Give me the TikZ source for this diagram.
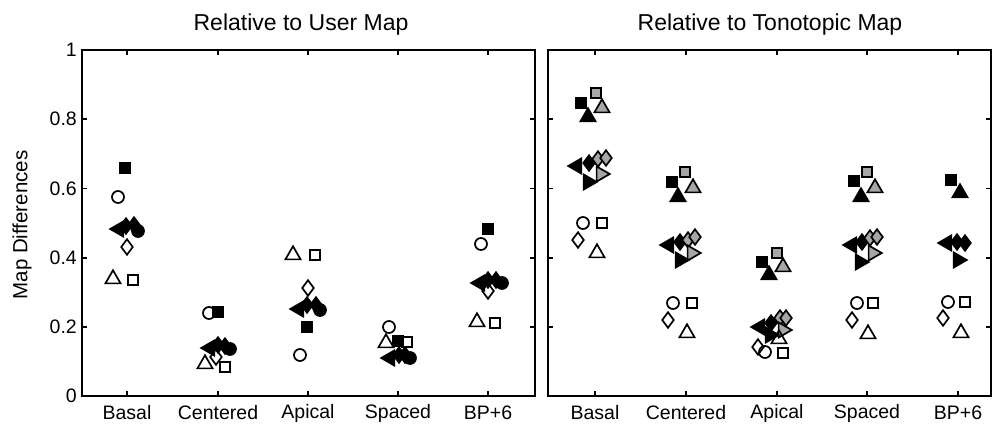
\documentclass[tikz,border=0pt]{standalone}
\usepackage{fontspec}
\setmainfont{Liberation Sans}
\usetikzlibrary{shapes.geometric}
\begin{document}
\begin{tikzpicture}[x=1pt,y=-1pt,
  ax/.style={line width=1.8pt, black},
  mk/.style={inner sep=0pt, outer sep=0pt, line width=1.7pt, draw=black},
  osq/.style={mk, rectangle, minimum size=10.5pt},
  fsq/.style={osq, fill=black},
  gsq/.style={osq, fill=black!35},
  oci/.style={mk, circle, minimum size=12pt},
  fci/.style={oci, fill=black},
  odi/.style={mk, diamond, minimum width=11.5pt, minimum height=15.5pt},
  fdi/.style={odi, fill=black},
  gdi/.style={odi, fill=black!35},
  otr/.style={mk, regular polygon, regular polygon sides=3, minimum size=17.5pt},
  ftr/.style={otr, fill=black},
  gtr/.style={otr, fill=black!35},
  flt/.style={otr, shape border rotate=90, fill=black},
  frt/.style={otr, shape border rotate=-90, fill=black},
  grt/.style={otr, shape border rotate=-90, fill=black!35},
  tick/.style={font=\fontsize{19.5}{22}\selectfont},
  ttl/.style={font=\fontsize{23}{27}\selectfont}
]
\useasboundingbox (0,0) rectangle (994,429);

% titles and axis label
\node[ttl] (t1) at (301,25) {Relative to User Map};
\node[ttl] (t2) at (770,25) {Relative to Tonotopic Map};
\node[font=\fontsize{20.5}{24}\selectfont, rotate=90] (ylab) at (22,225) {Map Differences};

% frames
\draw[ax] (82,50) rectangle (535,396);
\draw[ax] (548,50) rectangle (991,396);

% y ticks
\foreach \i in {1,...,4} {
  \draw[ax] (82,{396-69.2*\i}) -- ++(5,0);
  \draw[ax] (535,{396-69.2*\i}) -- ++(-5,0);
  \draw[ax] (548,{396-69.2*\i}) -- ++(5,0);
  \draw[ax] (991,{396-69.2*\i}) -- ++(-5,0);
}
\foreach \i/\t in {0/0,1/0.2,2/0.4,3/0.6,4/0.8,5/1} {
  \node[tick, anchor=east, inner sep=0pt] (yl\i) at (77,{396-69.2*\i}) {\t};
}

% x ticks and labels
\foreach \x/\t [count=\k] in {127/Basal,218/Centered,308/Apical,398/Spaced,488/BP+6,595/Basal,686/Centered,777/Apical,867/Spaced,958/BP+6} {
  \draw[ax] (\x,396) -- ++(0,-5);
  \draw[ax] (\x,50) -- ++(0,5);
  \node[tick] (xl\k) at (\x,413) {\t};
}

% ---------- Left panel ----------
% Basal
\node[fsq] (a1) at (125,168) {};
\node[oci] (a2) at (118,197) {};
\node[flt] (a3) at (119,229) {};
\node[fdi] (a4) at (126,226) {};
\node[fci] (a5) at (138,231) {};
\node[fdi] (a6) at (134,225) {};
\node[odi] (a7) at (127,247) {};
\node[otr] (a8) at (113,279) {};
\node[osq] (a9) at (133,280) {};
% Centered
\node[oci] (b1) at (209,313) {};
\node[fsq] (b2) at (218,312) {};
\node[odi] (b3) at (216,357) {};
\node[otr] (b4) at (205,364) {};
\node[osq] (b5) at (225,367) {};
\node[flt] (b6) at (210,348) {};
\node[fdi] (b7) at (218,345) {};
\node[fci] (b8) at (230,349) {};
\node[fdi] (b9) at (225,346) {};
% Apical
\node[otr] (c1) at (293,255) {};
\node[osq] (c2) at (315,255) {};
\node[odi] (c3) at (308,288) {};
\node[flt] (c4) at (299,309) {};
\node[fdi] (c5) at (307,305) {};
\node[fci] (c6) at (320,310) {};
\node[fdi] (c7) at (316,305) {};
\node[fsq] (c8) at (307,327) {};
\node[oci] (c9) at (300,355) {};
% Spaced
\node[oci] (d1) at (389,327) {};
\node[otr] (d2) at (386,343) {};
\node[fsq] (d3) at (398,341) {};
\node[osq] (d4) at (407,342) {};
\node[flt] (d5) at (390,358) {};
\node[fdi] (d6) at (399,355) {};
\node[fci] (d7) at (410,358) {};
\node[fdi] (d8) at (405,355) {};
% BP+6
\node[fsq] (e1) at (488,229) {};
\node[oci] (e2) at (481,244) {};
\node[flt] (e3) at (480,283) {};
\node[fdi] (e4) at (488,280) {};
\node[fci] (e5) at (502,283) {};
\node[fdi] (e6) at (496,280) {};
\node[odi] (e7) at (488,291) {};
\node[otr] (e8) at (477,322) {};
\node[osq] (e9) at (495,323) {};

% ---------- Right panel ----------
% Basal
\node[gsq] (f1) at (596,93) {};
\node[fsq] (f2) at (581,103) {};
\node[gtr] (f3) at (602,108) {};
\node[ftr] (f4) at (588,117) {};
\node[flt] (f5) at (577,166) {};
\node[fdi] (f6) at (589,163) {};
\node[gdi] (f7) at (598,159) {};
\node[gdi] (f8) at (606,158) {};
\node[grt] (f9) at (601,174) {};
\node[frt] (f10) at (588,182) {};
\node[oci] (f11) at (583,223) {};
\node[osq] (f12) at (602,223) {};
\node[odi] (f13) at (578,240) {};
\node[otr] (f14) at (597,253) {};
% Centered
\node[gsq] (g1) at (685,172) {};
\node[fsq] (g2) at (672,182) {};
\node[gtr] (g3) at (693,188) {};
\node[ftr] (g4) at (678,197) {};
\node[flt] (g5) at (669,245) {};
\node[fdi] (g6) at (680,242) {};
\node[gdi] (g7) at (688,240) {};
\node[gdi] (g8) at (695,237) {};
\node[grt] (g9) at (692,253) {};
\node[frt] (g10) at (680,260) {};
\node[oci] (g11) at (673,303) {};
\node[osq] (g12) at (692,303) {};
\node[odi] (g13) at (668,320) {};
\node[otr] (g14) at (687,333) {};
% Apical
\node[gsq] (h1) at (777,253) {};
\node[fsq] (h2) at (762,262) {};
\node[gtr] (h3) at (783,267) {};
\node[ftr] (h4) at (769,275) {};
\node[flt] (h5) at (760,327) {};
\node[fdi] (h6) at (771,323) {};
\node[gdi] (h7) at (780,318) {};
\node[gdi] (h8) at (786,318) {};
\node[grt] (h9) at (783,330) {};
\node[frt] (h10) at (770,335) {};
\node[otr] (h11) at (779,339) {};
\node[odi] (h12) at (758,347) {};
\node[oci] (h13) at (765,352) {};
\node[osq] (h14) at (783,353) {};
% Spaced
\node[gsq] (i1) at (867,172) {};
\node[fsq] (i2) at (854,181) {};
\node[gtr] (i3) at (875,188) {};
\node[ftr] (i4) at (861,197) {};
\node[flt] (i5) at (852,245) {};
\node[fdi] (i6) at (862,242) {};
\node[gdi] (i7) at (870,238) {};
\node[gdi] (i8) at (877,237) {};
\node[grt] (i9) at (873,253) {};
\node[frt] (i10) at (860,262) {};
\node[oci] (i11) at (857,303) {};
\node[osq] (i12) at (873,303) {};
\node[odi] (i13) at (852,320) {};
\node[otr] (i14) at (868,334) {};
% BP+6
\node[fsq] (j1) at (951,180) {};
\node[ftr] (j2) at (960,193) {};
\node[flt] (j3) at (947,243) {};
\node[fdi] (j4) at (957,242) {};
\node[fdi] (j5) at (965,243) {};
\node[frt] (j6) at (958,260) {};
\node[oci] (j7) at (948,302) {};
\node[osq] (j8) at (965,302) {};
\node[odi] (j9) at (943,318) {};
\node[otr] (j10) at (961,333) {};
\end{tikzpicture}
\end{document}
